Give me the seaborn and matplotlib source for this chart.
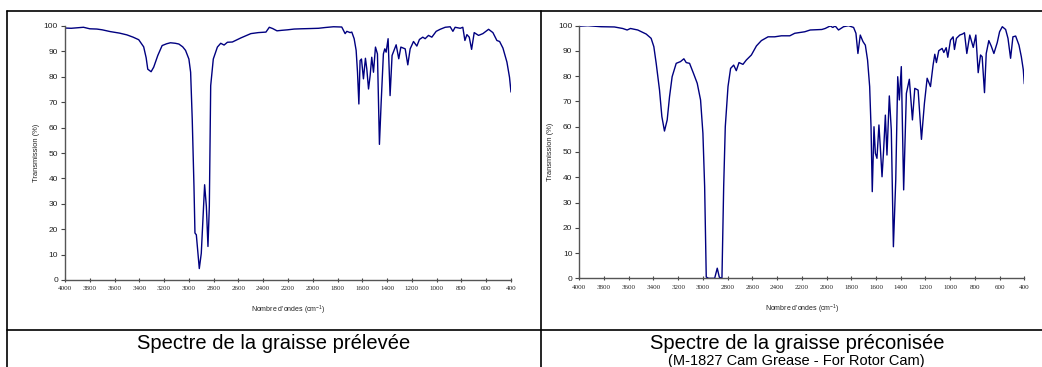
import matplotlib
matplotlib.use("Agg")
import matplotlib.pyplot as plt
import seaborn as sns
import pandas as pd
from matplotlib.lines import Line2D

# ---------------- data ----------------
wn_left = [4000, 3950, 3900, 3851, 3800, 3743, 3700, 3635, 3560, 3500,
           3450, 3405, 3365, 3345, 3332, 3305, 3284, 3251, 3216, 3180,
           3149, 3110, 3081, 3050, 3027, 3000, 2986, 2973, 2959, 2951,
           2940, 2916, 2900, 2873, 2859, 2846, 2835, 2824, 2803, 2770,
           2743, 2716, 2689, 2649, 2581, 2500, 2440, 2378, 2351, 2324,
           2289, 2250, 2203, 2150, 2094, 2019, 1954, 1900, 1833, 1766,
           1739, 1725, 1699, 1685, 1666, 1650, 1639, 1628, 1618, 1607,
           1591, 1575, 1564, 1550, 1537, 1524, 1510, 1494, 1478, 1462,
           1448, 1430, 1419, 1408, 1392, 1376, 1360, 1327, 1306, 1289,
           1254, 1233, 1214, 1187, 1160, 1139, 1112, 1093, 1066, 1039,
           1004, 972, 931, 891, 869, 851, 810, 789, 772, 756,
           737, 718, 697, 662, 627, 581, 546, 514, 492, 465,
           433, 412, 400]
t_left = [99.2, 99.1, 99.3, 99.5, 98.9, 98.8, 98.5, 97.8, 97.2, 96.5,
          95.6, 94.6, 91.8, 87.5, 83.0, 82.0, 83.8, 88.4, 92.3, 93.0,
          93.4, 93.2, 92.9, 91.8, 90.4, 87.0, 81.8, 63.3, 36.9, 18.5,
          17.8, 4.5, 10.5, 37.5, 29.0, 13.2, 29.0, 76.5, 87.0, 91.7,
          93.2, 92.5, 93.6, 93.7, 95.3, 97.0, 97.4, 97.6, 99.5, 99.0,
          98.1, 98.3, 98.5, 98.8, 98.9, 99.0, 99.1, 99.4, 99.7, 99.6,
          97.0, 97.9, 97.4, 97.6, 95.0, 90.4, 81.8, 69.3, 86.4, 87.0,
          79.2, 87.3, 83.1, 75.2, 80.5, 87.7, 81.8, 91.7, 89.0, 53.4,
          69.9, 89.0, 91.0, 89.7, 95.0, 72.6, 88.4, 92.6, 87.1, 91.7,
          91.0, 84.7, 91.0, 93.9, 92.1, 94.7, 95.6, 95.0, 96.3, 95.6,
          97.9, 98.7, 99.5, 99.7, 97.9, 99.5, 99.1, 99.5, 94.3, 96.6,
          95.6, 90.8, 97.4, 96.3, 97.0, 98.7, 97.4, 94.3, 93.9, 91.3,
          85.8, 79.8, 74.0]

wn_right = [4000, 3932, 3824, 3716, 3649, 3613, 3586, 3527, 3459, 3419,
            3397, 3378, 3351, 3332, 3311, 3289, 3270, 3249, 3216, 3181,
            3154, 3135, 3108, 3076, 3046, 3019, 3000, 2986, 2973, 2954,
            2905, 2884, 2867, 2846, 2832, 2819, 2797, 2776, 2751, 2730,
            2708, 2676, 2649, 2608, 2567, 2527, 2473, 2419, 2365, 2297,
            2257, 2214, 2176, 2132, 2038, 2011, 1970, 1949, 1930, 1903,
            1862, 1822, 1781, 1762, 1746, 1727, 1705, 1686, 1668, 1651,
            1640, 1630, 1616, 1605, 1592, 1576, 1565, 1551, 1538, 1524,
            1511, 1492, 1476, 1459, 1440, 1424, 1411, 1395, 1376, 1354,
            1330, 1305, 1286, 1259, 1232, 1208, 1186, 1159, 1138, 1124,
            1111, 1092, 1065, 1051, 1032, 1019, 997, 976, 965, 949,
            922, 900, 884, 865, 841, 813, 792, 773, 754, 741,
            722, 708, 687, 668, 646, 619, 600, 578, 551, 532,
            511, 492, 470, 443, 424, 408, 400]
t_right = [99.8, 100.0, 99.6, 99.5, 98.9, 98.3, 98.9, 98.3, 96.7, 95.0,
           91.7, 85.1, 74.5, 64.0, 58.3, 62.7, 71.9, 79.8, 85.1, 85.8,
           86.9, 85.4, 85.1, 81.1, 77.2, 70.6, 57.4, 36.3, 0.5, 0.0,
           0.0, 4.0, 0.4, 0.0, 36.3, 60.0, 75.9, 83.1, 84.4, 82.2,
           85.4, 84.7, 86.4, 88.4, 92.0, 94.1, 95.6, 95.6, 96.0, 96.0,
           97.0, 97.3, 97.6, 98.3, 98.5, 98.9, 99.9, 99.3, 99.9, 98.3,
           99.6, 100.0, 99.3, 97.0, 89.0, 96.3, 93.7, 92.3, 86.4, 75.9,
           60.0, 34.3, 60.0, 49.5, 47.5, 60.7, 52.1, 40.2, 50.8, 64.6,
           48.8, 72.2, 58.7, 12.5, 38.9, 79.8, 70.6, 83.8, 35.0, 73.2,
           78.8, 62.7, 75.2, 74.5, 55.0, 69.3, 79.2, 75.9, 84.4, 88.7,
           85.4, 90.1, 91.0, 89.4, 91.3, 87.5, 94.3, 95.6, 90.6, 95.0,
           96.3, 96.7, 97.2, 89.0, 96.3, 91.4, 96.3, 81.4, 88.4, 87.7,
           73.5, 89.0, 94.1, 92.0, 89.0, 93.3, 97.6, 99.6, 98.5, 95.0,
           87.1, 95.6, 95.9, 92.3, 87.7, 82.5, 77.0]

x_ticks = list(range(4000, 399, -200))
y_ticks = list(range(0, 101, 10))
x_label = "Nombre d'ondes (cm$^{\\mathregular{-1}}$)"
y_label = "Transmission (%)"
caption_left = "Spectre de la graisse prélevée"
caption_right = "Spectre de la graisse préconisée"
subcaption_right = "(M-1827 Cam Grease - For Rotor Cam)"

# ---------------- style ----------------
sns.set_style("white")
plt.rcParams['font.family'] = ['Liberation Sans', 'DejaVu Sans']
plt.rcParams['mathtext.fontset'] = 'custom'
plt.rcParams['mathtext.rm'] = 'Liberation Sans'

W, H = 1042, 367
fig = plt.figure(figsize=(W / 100, H / 100), dpi=100)
fig.patch.set_facecolor('white')

LINE_COLOR = '#000080'


def fx(px):
    return px / W


def fy(py):
    return 1 - py / H


def make_axes(x0, x1, y_top, y_bot, wn, t):
    ax = fig.add_axes([fx(x0), fy(y_bot), fx(x1) - fx(x0), fy(y_top) - fy(y_bot)])
    df = pd.DataFrame({'wn': wn, 't': t})
    sns.lineplot(data=df, x='wn', y='t', ax=ax, sort=False, estimator=None,
                 color=LINE_COLOR, linewidth=1.0)
    ax.set_xlim(4000, 400)
    ax.set_ylim(0, 100)
    ax.set_xticks(x_ticks)
    ax.set_yticks(y_ticks)
    ax.set_xticklabels([str(v) for v in x_ticks], family='Liberation Serif',
                       fontsize=5, color='#222222')
    ax.set_yticklabels([str(v) for v in y_ticks], fontsize=6, color='#222222')
    ax.tick_params(axis='x', direction='inout', length=3, width=0.8,
                   color='#444444', pad=3, bottom=True)
    ax.tick_params(axis='y', direction='out', length=3, width=0.8,
                   color='#444444', pad=2, left=True)
    for s in ['top', 'right']:
        ax.spines[s].set_visible(False)
    for s in ['left', 'bottom']:
        ax.spines[s].set_color('#555555')
        ax.spines[s].set_linewidth(1.0)
    ax.set_xlabel(x_label, fontsize=5, color='#222222')
    ax.set_ylabel(y_label, fontsize=5.4, color='#222222')
    ax.xaxis.set_label_coords(0.5, -0.095)
    ax.yaxis.set_label_coords(-0.057, 0.5)
    ax.patch.set_alpha(0)
    ax.grid(False)
    return ax


make_axes(65, 511, 26, 280, wn_left, t_left)
make_axes(579.3, 1024.3, 25.7, 278.3, wn_right, t_right)


# table frame lines
def hline(y, x0, x1):
    fig.add_artist(Line2D([fx(x0), fx(x1)], [fy(y), fy(y)], color='black',
                          linewidth=1.2, transform=fig.transFigure))


def vline(x, y0, y1):
    fig.add_artist(Line2D([fx(x), fx(x)], [fy(y0), fy(y1)], color='black',
                          linewidth=1.2, transform=fig.transFigure))


hline(11, 7, W)
hline(330, 7, W)
vline(7, 11, H)
vline(541, 11, H)

fig.text(fx(274), fy(349), caption_left, ha='center', va='baseline',
         fontsize=14.5, color='black')
fig.text(fx(797), fy(349), caption_right, ha='center', va='baseline',
         fontsize=14.5, color='black')
fig.text(fx(796), fy(364.5), subcaption_right, ha='center', va='baseline',
         fontsize=10.5, color='black')

fig.savefig('out.png', dpi=100, facecolor='white')
